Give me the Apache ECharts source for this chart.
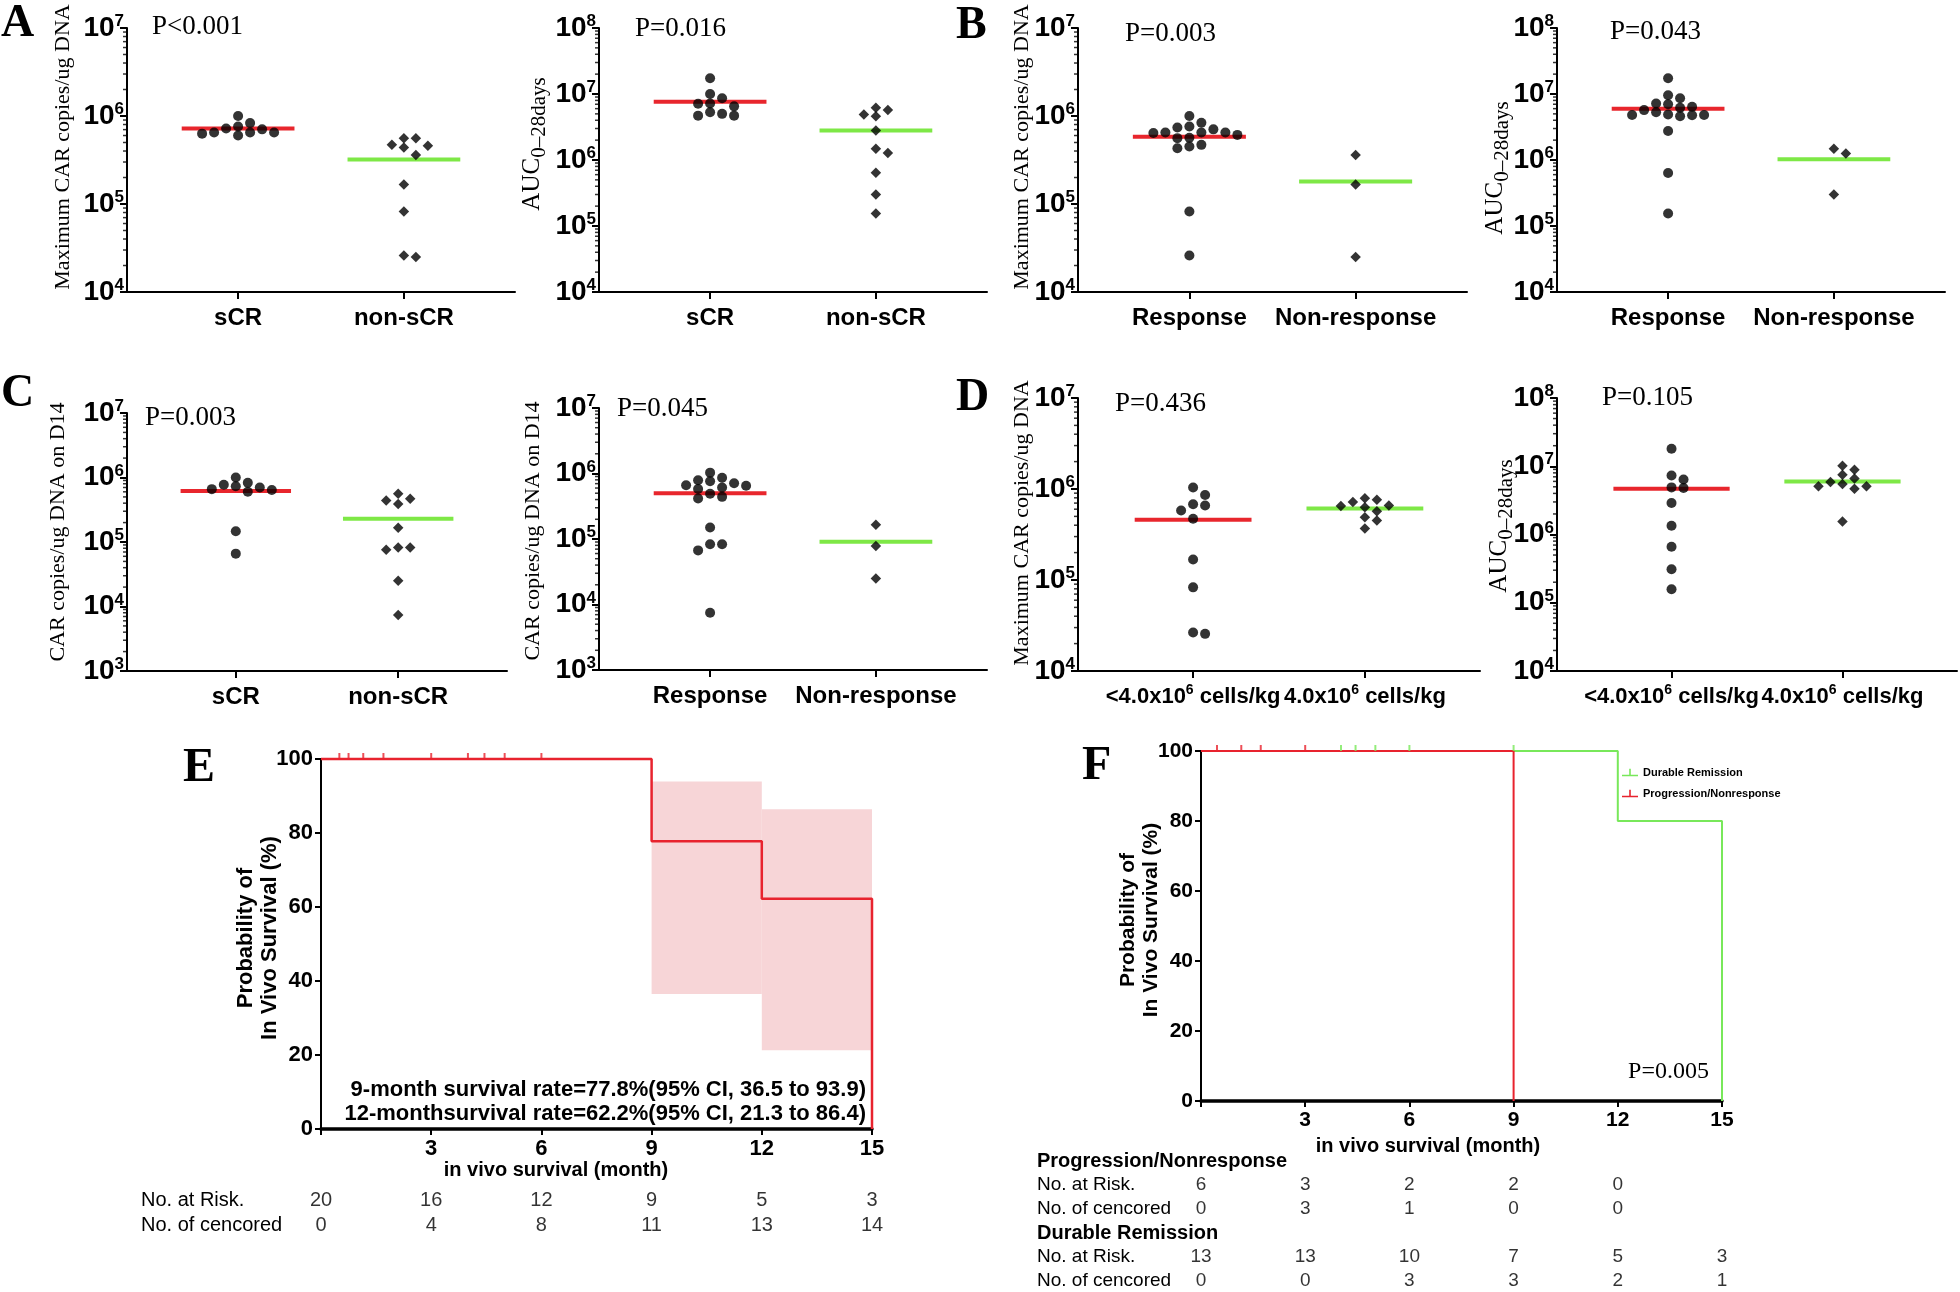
<!DOCTYPE html>
<html><head><meta charset="utf-8">
<script src="https://cdn.jsdelivr.net/npm/echarts@6/dist/echarts.min.js"></script>
<style>html,body{margin:0;padding:0;background:#fff}#c{width:1960px;height:1292px}</style>
</head><body><div id="c"></div>
<script>
// ---------------- DATA ----------------
const catsSCR = ['sCR', 'non-sCR'];
const catsResp = ['Response', 'Non-response'];
const catsDose = ['<4.0x10^6 cells/kg', '4.0x10^6 cells/kg'];

// A: maximum CAR copies / AUC, sCR vs non-sCR
const aMaxSCR = [8.3e5, 7.2e5, 6.5e5, 6.5e5, 1.0e6, 6.0e5, 6.3e5, 6.5e5, 7.05e5, 7.6e5];
const aMaxNonSCR = [4.7e5, 5.6e5, 4.4e5, 5.6e5, 3.6e5, 4.6e5, 1.67e5, 8.2e4, 2.5e4, 2.6e4];
const aMaxMed = [7.2e5, 3.2e5];
const aAucSCR = [7.2e6, 6.5e6, 5.0e6, 1.0e7, 1.73e7, 4.7e6, 8.6e6, 4.7e6, 5.3e6, 7.1e6];
const aAucNonSCR = [5.7e6, 4.9e6, 4.6e6, 6.2e6, 2.8e6, 1.48e6, 1.28e6, 6.4e5, 3.0e5, 1.55e5];
const aAucMed = [7.6e6, 2.8e6];
// B: response vs non-response
const bMaxResp = [6.5e5, 6.4e5, 7.6e5, 5.65e5, 7.05e5, 4.7e5, 1.0e6, 6.5e5, 4.3e5, 4.5e5, 7.4e5, 5.6e5, 8.4e5, 6.1e5, 6.5e5, 8.2e4, 2.6e4];
const bMaxNonResp = [3.6e5, 1.67e5, 2.5e4];
const bMaxMed = [5.8e5, 1.8e5];
const bAucResp = [7.0e6, 6.2e6, 5.3e6, 4.8e6, 4.9e6, 8.6e6, 1.73e7, 9.6e6, 4.75e6, 4.8e6, 4.6e6, 5.7e6, 6.4e6, 7.2e6, 2.75e6, 6.35e5, 1.55e5];
const bAucNonResp = [1.48e6, 1.26e6, 3.0e5];
const bAucMed = [6.0e6, 1.03e6];
// C: CAR copies on D14
const cD14SCR = [8.3e5, 7.3e5, 6.6e5, 6.0e5, 6.4e5, 7.0e5, 7.7e5, 1.0e6, 1.47e5, 6.6e4];
const cD14NonSCR = [4.7e5, 3.9e5, 4.4e5, 5.6e5, 1.67e5, 8.2e4, 7.6e4, 8.2e4, 2.5e4, 7.4e3];
const cD14Med1 = [6.2e5, 2.3e5];
const cD14Resp = [6.5e5, 1.03e6, 5.8e5, 7.9e5, 4.4e5, 7.1e5, 4.15e5, 4.9e5, 7.6e5, 6.1e5, 8.6e5, 6.6e5, 1.5e5, 8.3e4, 8.3e4, 6.7e4, 7.5e3];
const cD14NonResp = [1.65e5, 7.8e4, 2.5e4];
const cD14Med2 = [5.0e5, 9.1e4];
// D: dose groups
const dMaxLow = [1.04e6, 8.6e5, 6.8e5, 6.6e5, 5.8e5, 4.7e5, 1.68e5, 8.3e4, 2.56e4, 2.65e4];
const dMaxHigh = [7.6e5, 6.6e5, 6.3e5, 4.9e5, 5.7e5, 3.67e5, 6.5e5, 4.5e5, 7.2e5, 7.9e5];
const dMaxMed = [4.6e5, 6.1e5];
const dAucLow = [1.8e7, 7.3e6, 6.4e6, 4.9e6, 4.8e6, 2.9e6, 1.34e6, 6.6e5, 3.1e5, 1.58e5];
const dAucHigh = [6.6e6, 5.5e6, 1.02e7, 5.1e6, 7.5e6, 4.7e6, 8.9e6, 5.1e6, 5.9e6, 1.55e6];
const dAucMed = [4.7e6, 6.0e6];

const pValues = ['P<0.001', 'P=0.016', 'P=0.003', 'P=0.043', 'P=0.003', 'P=0.045', 'P=0.436', 'P=0.105'];

// E: Kaplan-Meier overall
const kmTimesE = [0, 9, 12, 15];
const kmSurvE = [100, 77.8, 62.2, 0];
const ciStartE = [9, 12];
const ciEndE = [12, 15];
const ciLowE = [36.5, 21.3];
const ciHighE = [93.9, 86.4];
const censorE = [0.5, 0.75, 1.15, 1.7, 3.0, 4.0, 4.45, 5.0, 6.0];
const riskMonths = [0, 3, 6, 9, 12, 15];
const riskE = [20, 16, 12, 9, 5, 3];
const censoredE = [0, 4, 8, 11, 13, 14];

// F: Kaplan-Meier by group
const kmTimesDR = [0, 12, 15];
const kmSurvDR = [100, 80, 0];
const kmTimesPN = [0, 9];
const kmSurvPN = [100, 0];
const censorPN = [0.46, 1.16, 1.72, 3.0];
const censorDR = [4.03, 4.45, 5.02, 6.0, 9.0];
const riskPN = [6, 3, 2, 2, 0];
const censoredPN = [0, 3, 1, 0, 0];
const riskDR = [13, 13, 10, 7, 5, 3];
const censoredDR = [0, 0, 3, 3, 2, 1];
const pValueF = 'P=0.005';

// ---------------- STYLE / LAYOUT ----------------
const SANS = '"Liberation Sans", Arial, sans-serif';
const SERIF = '"Liberation Serif", "Times New Roman", serif';
const RED = '#e8262d';
const GREEN = '#7ee846';
const KMRED = '#e8232e';
const KMGREEN = '#78e85a';
const XMIN = -0.67, XMAX = 1.67;

const panels = [
  {left:127, top:28, right:515, bottom:292, lo:4, hi:7, cats:catsSCR, g1:aMaxSCR, g2:aMaxNonSCR, med:aMaxMed, fs:24},
  {left:599, top:28, right:987, bottom:292, lo:4, hi:8, cats:catsSCR, g1:aAucSCR, g2:aAucNonSCR, med:aAucMed, fs:24},
  {left:1078, top:28, right:1467, bottom:292, lo:4, hi:7, cats:catsResp, g1:bMaxResp, g2:bMaxNonResp, med:bMaxMed, fs:24},
  {left:1557, top:28, right:1945, bottom:292, lo:4, hi:8, cats:catsResp, g1:bAucResp, g2:bAucNonResp, med:bAucMed, fs:24},
  {left:127, top:413, right:507, bottom:671, lo:3, hi:7, cats:catsSCR, g1:cD14SCR, g2:cD14NonSCR, med:cD14Med1, fs:24},
  {left:599, top:408, right:987, bottom:670, lo:3, hi:7, cats:catsResp, g1:cD14Resp, g2:cD14NonResp, med:cD14Med2, fs:24},
  {left:1078, top:398, right:1480, bottom:671, lo:4, hi:7, cats:catsDose, g1:dMaxLow, g2:dMaxHigh, med:dMaxMed, fs:22},
  {left:1557, top:398, right:1957, bottom:671, lo:4, hi:8, cats:catsDose, g1:dAucLow, g2:dAucHigh, med:dAucMed, fs:22}
];

// beeswarm offsets computed from the values (no typed coordinates)
function swarmX(vals, center, pxPerUnit, pxPerDec) {
  const order = vals.map((_, i) => i).sort((a, b) => vals[b] - vals[a]);
  const placed = [];
  const out = new Array(vals.length);
  const W = 12, H = 8.5;
  for (const i of order) {
    const y = -Math.log10(vals[i]) * pxPerDec;
    let off = 0;
    for (let k = 0; k < 600; k++) {
      const cand = (k % 2 ? 1 : -1) * Math.ceil(k / 2) * 0.5;
      if (placed.every(p => Math.abs(p.x - cand) >= W || Math.abs(p.y - y) >= H)) { off = cand; break; }
    }
    placed.push({x: off, y});
    out[i] = center + off / pxPerUnit;
  }
  return out;
}

function catRich(s) {
  return '{c|' + s.replace(/\^(\d+)/, '}{s|$1}{c|') + '}';
}

const grid = [], xAxis = [], yAxis = [], series = [];

panels.forEach((p, i) => {
  const w = p.right - p.left, h = p.bottom - p.top;
  grid.push({left: p.left, top: p.top, width: w, height: h});
  xAxis.push({
    gridIndex: i, type: 'value', min: XMIN, max: XMAX,
    axisLine: {show: true, onZero: false, lineStyle: {color: '#000', width: 2}},
    axisTick: {show: true, customValues: [0, 1], length: 7, lineStyle: {color: '#000', width: 2}},
    splitLine: {show: false},
    axisLabel: {
      customValues: [0, 1], margin: 12, color: '#000',
      formatter: v => catRich(p.cats[Math.round(v)]),
      rich: {
        c: {fontFamily: SANS, fontWeight: 'bold', fontSize: p.fs, lineHeight: 28, color: '#000'},
        s: {fontFamily: SANS, fontWeight: 'bold', fontSize: 14, lineHeight: 14, verticalAlign: 'top', color: '#000'}
      }
    }
  });
  yAxis.push({
    gridIndex: i, type: 'log', logBase: 10, min: Math.pow(10, p.lo), max: Math.pow(10, p.hi),
    axisLine: {show: true, onZero: false, lineStyle: {color: '#000', width: 2}},
    axisTick: {show: true, length: 7, lineStyle: {color: '#000', width: 2}},
    splitLine: {show: false}, minorTick: {show: false},
    axisLabel: {
      margin: 3, color: '#000',
      formatter: v => '{b|10}{s|' + Math.round(Math.log10(v)) + '}',
      rich: {
        b: {fontFamily: SANS, fontWeight: 'bold', fontSize: 28, lineHeight: 30, color: '#000'},
        s: {fontFamily: SANS, fontWeight: 'bold', fontSize: 17, lineHeight: 17, verticalAlign: 'top', color: '#000'}
      }
    }
  });
  // minor log ticks
  const minor = [];
  for (let d = p.lo; d < p.hi; d++) for (let k = 2; k <= 9; k++) minor.push([XMIN, k * Math.pow(10, d)]);
  series.push({type: 'scatter', xAxisIndex: i, yAxisIndex: i, data: minor, symbol: 'rect',
    symbolSize: [4, 1.5], symbolOffset: [-2, 0], itemStyle: {color: '#000'}, silent: true, clip: false, z: 1});
  // median lines
  [0, 1].forEach(g => {
    series.push({type: 'line', xAxisIndex: i, yAxisIndex: i,
      data: [[g - 0.34, p.med[g]], [g + 0.34, p.med[g]]],
      symbol: 'none', lineStyle: {color: g === 0 ? RED : GREEN, width: 4}, silent: true, z: 2, clip: false});
  });
  const ppu = w / (XMAX - XMIN), ppd = h / (p.hi - p.lo);
  const x1 = swarmX(p.g1, 0, ppu, ppd), x2 = swarmX(p.g2, 1, ppu, ppd);
  series.push({type: 'scatter', xAxisIndex: i, yAxisIndex: i, data: p.g1.map((v, j) => [x1[j], v]),
    symbol: 'circle', symbolSize: 10, itemStyle: {color: '#000'}, z: 3, clip: false});
  series.push({type: 'scatter', xAxisIndex: i, yAxisIndex: i, data: p.g2.map((v, j) => [x2[j], v]),
    symbol: 'diamond', symbolSize: 10.5, itemStyle: {color: '#000'}, z: 3, clip: false});
});

// ---------- KM panels ----------
function stepData(times, surv) {
  const d = [[times[0], surv[0]]];
  for (let i = 1; i < times.length; i++) { d.push([times[i], surv[i - 1]]); d.push([times[i], surv[i]]); }
  return d;
}
const kmLabel = {fontFamily: SANS, fontWeight: 'bold', color: '#000'};
function kmAxes(gi, fs) {
  xAxis.push({gridIndex: gi, type: 'value', min: 0, max: 15, interval: 3,
    axisLine: {show: true, onZero: false, lineStyle: {color: '#000', width: 3.5}},
    axisTick: {show: true, length: 6, lineStyle: {color: '#000', width: 2}},
    splitLine: {show: false},
    axisLabel: Object.assign({formatter: v => v === 0 ? '' : String(v), fontSize: fs, margin: 9}, kmLabel)});
  yAxis.push({gridIndex: gi, type: 'value', min: 0, max: 100, interval: 20,
    axisLine: {show: true, onZero: false, lineStyle: {color: '#000', width: 2}},
    axisTick: {show: true, length: 6, lineStyle: {color: '#000', width: 2}},
    splitLine: {show: false},
    axisLabel: Object.assign({fontSize: fs, margin: 8}, kmLabel)});
}
// E grid (8)
grid.push({left: 321, top: 759, width: 551, height: 370});
kmAxes(8, 22);
// F grid (9)
grid.push({left: 1201, top: 751, width: 521, height: 350});
kmAxes(9, 21);

series.push({type: 'custom', xAxisIndex: 8, yAxisIndex: 8,
  data: ciStartE.map((s, i) => [s, ciEndE[i], ciLowE[i], ciHighE[i]]),
  encode: {x: [0, 1], y: [2, 3]},
  renderItem: (params, api) => {
    const a = api.coord([api.value(0), api.value(3)]);
    const b = api.coord([api.value(1), api.value(2)]);
    return {type: 'rect', shape: {x: a[0], y: a[1], width: b[0] - a[0], height: b[1] - a[1]}, style: {fill: '#f7d5d7'}};
  }, silent: true, z: 1});
series.push({type: 'line', name: 'Overall', xAxisIndex: 8, yAxisIndex: 8, data: stepData(kmTimesE, kmSurvE),
  symbol: 'none', lineStyle: {color: KMRED, width: 2.5}, itemStyle: {color: KMRED}, clip: false, z: 5, silent: true});
series.push({type: 'scatter', xAxisIndex: 8, yAxisIndex: 8, data: censorE.map(t => [t, 100]),
  symbol: 'rect', symbolSize: [2, 6], symbolOffset: [0, -3], itemStyle: {color: KMRED}, clip: false, z: 5, silent: true});

series.push({type: 'line', name: 'Durable Remission', xAxisIndex: 9, yAxisIndex: 9, data: stepData(kmTimesDR, kmSurvDR),
  symbol: 'none', lineStyle: {color: KMGREEN, width: 2}, itemStyle: {color: KMGREEN}, clip: false, z: 5, silent: true});
series.push({type: 'line', name: 'Progression/Nonresponse', xAxisIndex: 9, yAxisIndex: 9, data: stepData(kmTimesPN, kmSurvPN),
  symbol: 'none', lineStyle: {color: KMRED, width: 2}, itemStyle: {color: KMRED}, clip: false, z: 5, silent: true});
series.push({type: 'scatter', xAxisIndex: 9, yAxisIndex: 9, data: censorPN.map(t => [t, 100]),
  symbol: 'rect', symbolSize: [2, 6], symbolOffset: [0, -3], itemStyle: {color: KMRED}, clip: false, z: 6, silent: true});
series.push({type: 'scatter', xAxisIndex: 9, yAxisIndex: 9, data: censorDR.map(t => [t, 100]),
  symbol: 'rect', symbolSize: [2, 6], symbolOffset: [0, -3], itemStyle: {color: KMGREEN}, clip: false, z: 6, silent: true});

// ---------- risk tables ----------
const rowsE = ['No. at Risk.', 'No. of cencored'];
grid.push({left: 321, top: 1200, width: 551, height: 25});
xAxis.push({gridIndex: 10, type: 'value', min: 0, max: 15, show: false});
yAxis.push({gridIndex: 10, type: 'value', min: 0, max: 1, interval: 1, inverse: true,
  axisLine: {show: false}, axisTick: {show: false}, splitLine: {show: false},
  axisLabel: {formatter: v => rowsE[Math.round(v)], align: 'left', margin: 180, fontFamily: SANS, fontSize: 20, color: '#000'}});
const rowsF = ['Progression/Nonresponse', 'No. at Risk.', 'No. of cencored', 'Durable Remission', 'No. at Risk.', 'No. of cencored'];
grid.push({left: 1201, top: 1161, width: 521, height: 120});
xAxis.push({gridIndex: 11, type: 'value', min: 0, max: 15, show: false});
yAxis.push({gridIndex: 11, type: 'value', min: 0, max: 5, interval: 1, inverse: true,
  axisLine: {show: false}, axisTick: {show: false}, splitLine: {show: false},
  axisLabel: {align: 'left', margin: 164, color: '#000',
    formatter: v => { const r = Math.round(v); return (r === 0 || r === 3 ? '{h|' : '{r|') + rowsF[r] + '}'; },
    rich: {h: {fontFamily: SANS, fontWeight: 'bold', fontSize: 20, color: '#000'},
           r: {fontFamily: SANS, fontSize: 19, color: '#000'}}}});

function tableSeries(gi, row, vals, fs) {
  series.push({type: 'scatter', xAxisIndex: gi, yAxisIndex: gi,
    data: vals.map((v, i) => [riskMonths[i], row, v]),
    symbolSize: 2, itemStyle: {color: 'rgba(0,0,0,0)'}, silent: true, clip: false, z: 10,
    label: {show: true, position: 'inside', formatter: q => String(q.value[2]), fontFamily: SANS, fontSize: fs, color: '#000'}});
}
tableSeries(10, 0, riskE, 20);
tableSeries(10, 1, censoredE, 20);
tableSeries(11, 1, riskPN, 19);
tableSeries(11, 2, censoredPN, 19);
tableSeries(11, 4, riskDR, 19);
tableSeries(11, 5, censoredDR, 19);

// ---------- text graphics ----------
function T(x, y, text, font, align, vAlign, rot, rich, extra) {
  return {type: 'text', x, y, rotation: rot || 0, silent: true,
    style: Object.assign({text, font, fill: '#000', align: align || 'left', verticalAlign: vAlign || 'middle', rich}, extra || {})};
}
const letterFont = 'bold 46px ' + SERIF;
const pFont = '27px ' + SERIF;
const ytFont = '22px ' + SERIF;
const aucRich = {a: {font: '25px ' + SERIF, fontSize: 25, fontFamily: SERIF, lineHeight: 36, fill: '#000'},
                 s: {font: '21px ' + SERIF, fontSize: 21, fontFamily: SERIF, lineHeight: 21, verticalAlign: 'bottom', fill: '#000'}};
const AUC = '{a|AUC}{s|0\u201328days}';
const R90 = Math.PI / 2;
const graphic = [
  T(1, 24, 'A', letterFont), T(956, 26, 'B', letterFont), T(1, 394, 'C', letterFont), T(956, 398, 'D', letterFont),
  T(183, 769, 'E', 'bold 48px ' + SERIF), T(1082, 767, 'F', 'bold 48px ' + SERIF),
  T(152, 27, pValues[0], pFont), T(635, 29, pValues[1], pFont), T(1125, 34, pValues[2], pFont), T(1610, 32, pValues[3], pFont),
  T(145, 418, pValues[4], pFont), T(617, 409, pValues[5], pFont), T(1115, 404, pValues[6], pFont), T(1602, 398, pValues[7], pFont),
  T(63, 147, 'Maximum CAR copies/ug DNA', ytFont, 'center', 'middle', R90),
  T(532, 144, AUC, '25px ' + SERIF, 'center', 'middle', R90, aucRich),
  T(1022, 147, 'Maximum CAR copies/ug DNA', ytFont, 'center', 'middle', R90),
  T(1495, 168, AUC, '25px ' + SERIF, 'center', 'middle', R90, aucRich),
  T(58, 532, 'CAR copies/ug DNA on D14', ytFont, 'center', 'middle', R90),
  T(533, 531, 'CAR copies/ug DNA on D14', ytFont, 'center', 'middle', R90),
  T(1022, 523, 'Maximum CAR copies/ug DNA', ytFont, 'center', 'middle', R90),
  T(1499, 526, AUC, '25px ' + SERIF, 'center', 'middle', R90, aucRich),
  // KM titles
  T(258, 938, 'Probability of\nIn Vivo Survival (%)', 'bold 22px ' + SANS, 'center', 'middle', R90, null, {lineHeight: 24}),
  T(1140, 920, 'Probability of\nIn Vivo Survival (%)', 'bold 21px ' + SANS, 'center', 'middle', R90, null, {lineHeight: 23}),
  T(556, 1170, 'in vivo survival (month)', 'bold 20px ' + SANS, 'center', 'middle'),
  T(1428, 1146, 'in vivo survival (month)', 'bold 20px ' + SANS, 'center', 'middle'),
  T(866, 1090, kmTimesE[1] + '-month survival rate=' + kmSurvE[1] + '%(95% CI, ' + ciLowE[0] + ' to ' + ciHighE[0] + ')', 'bold 22px ' + SANS, 'right', 'middle'),
  T(866, 1114, kmTimesE[2] + '-monthsurvival rate=' + kmSurvE[2] + '%(95% CI, ' + ciLowE[1] + ' to ' + ciHighE[1] + ')', 'bold 22px ' + SANS, 'right', 'middle'),
  T(1709, 1072, pValueF, '24px ' + SERIF, 'right', 'middle')
];

const ICON = 'path://M0,8L16,8L16,9.6L0,9.6Z M7.2,2L8.8,2L8.8,9L7.2,9Z';
const option = {
  animation: false,
  backgroundColor: '#fff',
  grid, xAxis, yAxis, series, graphic,
  legend: {
    data: [{name: 'Durable Remission', icon: ICON}, {name: 'Progression/Nonresponse', icon: ICON}],
    orient: 'vertical', left: 1617, top: 762, itemWidth: 16, itemHeight: 10, itemGap: 10,
    selectedMode: false,
    textStyle: {fontFamily: SANS, fontWeight: 'bold', fontSize: 11, color: '#000'}
  }
};
const chart = echarts.init(document.getElementById('c'), null, {renderer: 'canvas'});
chart.setOption(option);
</script></body></html>
